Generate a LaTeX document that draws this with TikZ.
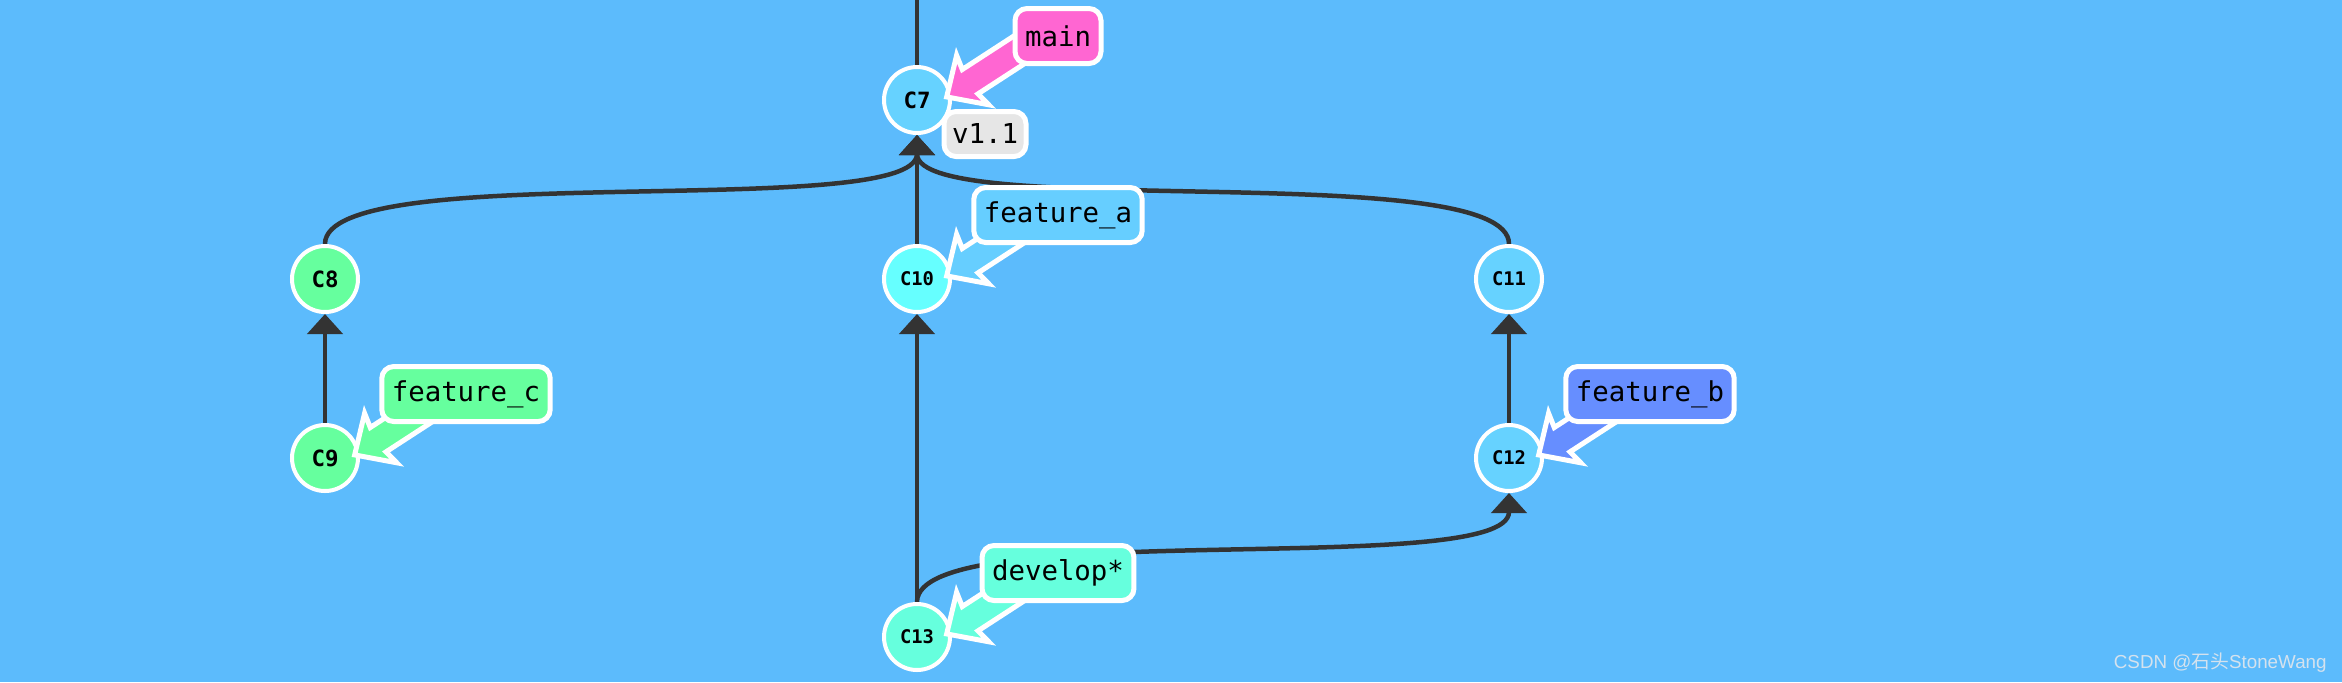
\documentclass[tikz,border=0pt]{standalone}
\usepackage{fontspec}
\setmainfont{Liberation Sans}
\setmonofont{DejaVu Sans Mono}
\newfontfamily\cjkfont{Noto Sans CJK SC}
\usetikzlibrary{arrows.meta,calc}
\definecolor{bgc}{HTML}{5CBBFC}
\definecolor{cblue}{HTML}{66D2FF}
\definecolor{ccyan}{HTML}{66FFFF}
\definecolor{cgreen}{HTML}{66FF9E}
\definecolor{cteal}{HTML}{66FFDD}
\definecolor{bmain}{HTML}{FF66D2}
\definecolor{bfa}{HTML}{66CEFF}
\definecolor{bfb}{HTML}{668EFF}
\definecolor{edgec}{HTML}{333333}
\definecolor{tagc}{HTML}{E6E6E6}
\definecolor{wmc}{HTML}{D4E2EE}
\pgfdeclarelayer{bglayer}
\pgfdeclarelayer{edgelayer}
\pgfsetlayers{bglayer,edgelayer,main}
\tikzset{
  commit/.style={circle, draw=white, line width=2pt, minimum size=33pt, inner sep=0pt,
    text=black, font=\ttfamily\bfseries\fontsize{11.2}{11.2}\selectfont},
  smallcommit/.style={commit, font=\ttfamily\bfseries\fontsize{9.4}{9.4}\selectfont},
  edge/.style={draw=edgec, line width=2.25pt, -{Triangle[length=10pt,width=17.5pt]}},
  plainedge/.style={draw=edgec, line width=2.25pt},
  blabel/.style={rectangle, rounded corners=6pt, draw=white, line width=2.5pt,
    minimum height=27.5pt, inner xsep=5pt, inner ysep=0pt, text=black,
    font=\ttfamily\fontsize{13.7}{13.7}\selectfont},
  taglabel/.style={blabel, minimum height=22.5pt, inner xsep=4pt, fill=tagc},
  barrow/.style={draw=white, line width=2.5pt, line join=miter},
}
\newcommand\branchpointer[2]{%
  \path[barrow, fill=#2, shift={($(#1.center)+(28,-2)$)}, rotate=33]
    (2,0) -- (33,-29.5) -- (30,-14.5) -- (120,-14.5) -- (120,14.5)
    -- (30,14.5) -- (33,29.5) -- cycle;}
\begin{document}
\begin{tikzpicture}[x=0.5pt, y=-0.5pt]
\begin{pgfonlayer}{bglayer}
  \fill[bgc] (0,0) rectangle (2342,682);
\end{pgfonlayer}
\useasboundingbox (0,0) rectangle (2342,682);

% commits
\node[commit, fill=cblue] (c7) at (917,100) {C7};
\node[commit, fill=cgreen] (c8) at (325,279) {C8};
\node[commit, fill=cgreen] (c9) at (325,458) {C9};
\node[smallcommit, fill=ccyan] (c10) at (917,279) {C10};
\node[smallcommit, fill=cblue] (c11) at (1509,279) {C11};
\node[smallcommit, fill=cblue] (c12) at (1509,458) {C12};
\node[smallcommit, fill=cteal] (c13) at (917,637) {C13};
\coordinate (top) at (917,0);

% edges
\begin{pgfonlayer}{edgelayer}
  \draw[plainedge] (c7.north) -- (top);
  \draw[edge] (c8.north) .. controls ($(c8.north)+(0,-87)$) and ($(c7.south)+(0,87)$) .. (c7.south);
  \draw[edge] (c11.north) .. controls ($(c11.north)+(0,-87)$) and ($(c7.south)+(0,87)$) .. (c7.south);
  \draw[edge] (c10.north) -- (c7.south);
  \draw[edge] (c9.north) -- (c8.south);
  \draw[edge] (c12.north) -- (c11.south);
  \draw[edge] (c13.north) -- (c10.south);
  \draw[edge] (c13.north) .. controls ($(c13.north)+(0,-87)$) and ($(c12.south)+(0,87)$) .. (c12.south);
\end{pgfonlayer}

% branch pointers
\branchpointer{c7}{bmain}
\branchpointer{c10}{bfa}
\branchpointer{c9}{cgreen}
\branchpointer{c12}{bfb}
\branchpointer{c13}{cteal}

% branch labels
\node[blabel, fill=bmain] (lmain) at ($(c7)+(141,-64)$) {main};
\node[blabel, fill=bfa] (lfa) at ($(c10)+(141,-64)$) {feature\_a};
\node[blabel, fill=cgreen] (lfc) at ($(c9)+(141,-64)$) {feature\_c};
\node[blabel, fill=bfb] (lfb) at ($(c12)+(141,-64)$) {feature\_b};
\node[blabel, fill=cteal] (ldev) at ($(c13)+(141,-64)$) {develop*};
\node[taglabel] (v11) at ($(c7)+(68,34)$) {v1.1};

% watermark
\node[anchor=base east, inner sep=0pt, text=wmc, font=\fontsize{9.4}{9.4}\selectfont] (wm) at (2327,668) {CSDN @{\cjkfont 石头}StoneWang};
\end{tikzpicture}
\end{document}
